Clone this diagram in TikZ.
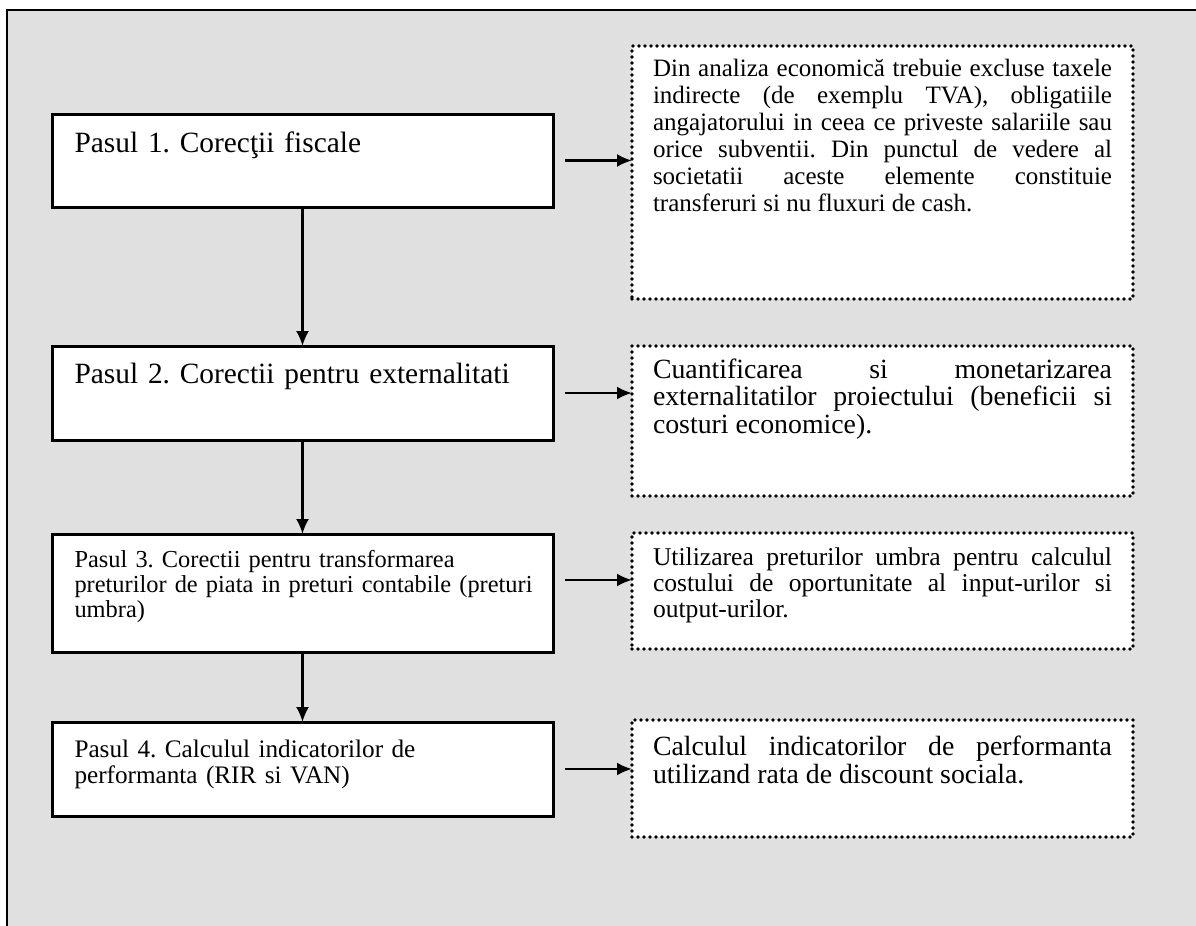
\documentclass[tikz,border=0pt]{standalone}
\usepackage{fontspec}
\setmainfont{Liberation Serif}
\usetikzlibrary{arrows.meta}
\hyphenpenalty=10000
\exhyphenpenalty=10000
\frenchspacing

\begin{document}
\begin{tikzpicture}[x=0.5pt,y=-0.5pt,
  stepbox/.style={draw,line width=1.5pt,fill=white,anchor=north west,align=left,
    text width=233pt,inner xsep=8.75pt,inner ysep=0pt,outer sep=0pt},
  resbox/.style={draw,line width=1.8pt,dash pattern=on 0pt off 3pt,line cap=round,
    fill=white,anchor=north west,align=justify,text width=229.5pt,inner xsep=10.5pt,
    inner ysep=0pt,outer sep=0pt},
  flow/.style={-{Latex[length=7.5pt,width=6.5pt]},line width=1.2pt}]
  \useasboundingbox (0,0) rectangle (1196,926);
  \fill[black!12] (7,10) rectangle (1196,926);
  \draw[line width=1pt] (7,926) -- (7,10) -- (1196,10);

  \node[stepbox,font=\fontsize{14.7}{17}\selectfont,text height=19pt,text depth=27.5pt] (step1) at (52,114) {\hspace*{2.5pt}Pasul 1. Corecţii fiscale};
  \node[stepbox,font=\fontsize{14.7}{17}\selectfont,text height=18.5pt,text depth=28.5pt] (step2) at (52,346) {\hspace*{2.5pt}Pasul 2. Corectii pentru externalitati};
  \node[stepbox,font=\fontsize{12.2}{12.5}\selectfont,text height=16.5pt,text depth=42.5pt] (step3) at (52,534) {\hspace*{2.5pt}Pasul 3. Corectii pentru transformarea\\\hspace*{2.5pt}preturilor de piata in preturi contabile (preturi\\\hspace*{2.5pt}umbra)};
  \node[stepbox,font=\fontsize{12.6}{13}\selectfont,text height=17.5pt,text depth=29.5pt] (step4) at (52,722) {\hspace*{2.5pt}Pasul 4. Calculul indicatorilor de\\\hspace*{2.5pt}performanta (RIR si VAN)};

  \node[resbox,font=\fontsize{12.5}{13.5}\selectfont,text height=15pt,text depth=111.5pt] (res1) at (632,46) {Din analiza economică trebuie excluse taxele\linebreak indirecte (de exemplu TVA), obligatiile\linebreak angajatorului in ceea ce priveste salariile sau\linebreak orice subventii. Din punctul de vedere al\linebreak societatii aceste elemente constituie\linebreak transferuri si nu fluxuri de cash.};
  \node[resbox,font=\fontsize{13.9}{13.8}\selectfont,text height=16pt,text depth=59pt] (res2) at (632,346) {Cuantificarea si monetarizarea\linebreak externalitatilor proiectului (beneficii si\linebreak costuri economice).};
  \node[resbox,font=\fontsize{12.8}{13.2}\selectfont,text height=16pt,text depth=42pt] (res3) at (632,533) {Utilizarea preturilor umbra pentru calculul\linebreak costului de oportunitate al input-urilor si\linebreak output-urilor.};
  \node[resbox,font=\fontsize{13.9}{14}\selectfont,text height=17.5pt,text depth=41pt] (res4) at (632,720) {Calculul indicatorilor de performanta\linebreak utilizand rata de discount sociala.};

  % steps
  \draw[flow] (step1.south) -- (step2.north);
  \draw[flow] (step2.south) -- (step3.north);
  \draw[flow] (step3.south) -- (step4.north);
  % results
  \draw[flow,shorten <=6pt] (step1.east) -- (step1.east -| res1.west);
  \draw[flow,shorten <=6pt] (step2.east) -- (step2.east -| res2.west);
  \draw[flow,shorten <=6pt] ([yshift=6.5pt]step3.east) -- ([yshift=6.5pt]step3.east -| res3.west);
  \draw[flow,shorten <=6pt] (step4.east) -- (step4.east -| res4.west);
\end{tikzpicture}
\end{document}
